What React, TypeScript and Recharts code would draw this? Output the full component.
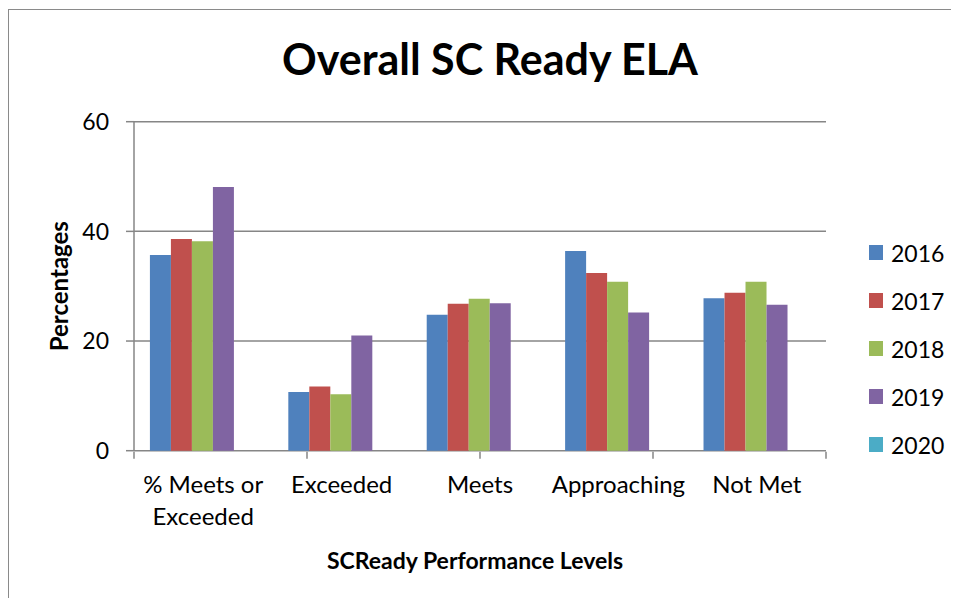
import { BarChart, Bar, XAxis, YAxis, CartesianGrid, Legend } from "recharts";

const categories = ["% Meets or Exceeded", "Exceeded", "Meets", "Approaching", "Not Met"];
const years = ["2016", "2017", "2018", "2019", "2020"];
const values2016 = [35.7, 10.7, 24.8, 36.4, 27.8];
const values2017 = [38.6, 11.7, 26.8, 32.4, 28.8];
const values2018 = [38.2, 10.3, 27.7, 30.8, 30.8];
const values2019 = [48.1, 21.0, 26.9, 25.2, 26.6];
const values2020: (number | null)[] = [null, null, null, null, null];
const yTicks = [0, 20, 40, 60];
const edgeTicks = [0, 1, 2, 3, 4, 5];

const seriesValues = [values2016, values2017, values2018, values2019, values2020];
const colors = ["#4F81BD", "#C0504D", "#9BBB59", "#8064A2", "#4BACC6"];

const FONT = "Lato, 'Open Sans', sans-serif";
const AXIS_GRAY = "#868686";

const chartData = categories.map((name, i) => {
  const row: Record<string, string | number | null> = { name };
  years.forEach((y, s) => {
    row[y] = seriesValues[s][i];
  });
  return row;
});

// x labels, the first one wraps on two lines like in excel
const CategoryTick = ({ x, y, payload }: any) => {
  const lines =
    payload.value === "% Meets or Exceeded" ? ["% Meets or", "Exceeded"] : [payload.value];
  return (
    <text x={x} y={y} textAnchor="middle" fontFamily={FONT} fontSize={24} fill="#000">
      {lines.map((l, i) => (
        <tspan key={i} x={x} dy={i === 0 ? 42 : 32}>
          {l}
        </tspan>
      ))}
    </text>
  );
};

const NoTick = () => <g />;

const YTitle = ({ viewBox }: any) => {
  const cx = viewBox.x + viewBox.width - 66.3;
  const cy = viewBox.y + viewBox.height / 2;
  return (
    <text
      x={cx}
      y={cy}
      transform={`rotate(-90 ${cx} ${cy})`}
      textAnchor="middle"
      fontFamily={FONT}
      fontWeight="bold"
      fontSize={24}
      fill="#000"
    >
      Percentages
    </text>
  );
};

const XTitle = ({ viewBox }: any) => {
  const cx = viewBox.x + viewBox.width / 2 - 5;
  return (
    <text
      x={cx}
      y={viewBox.y + 118}
      textAnchor="middle"
      fontFamily={FONT}
      fontWeight="bold"
      fontSize={23}
      fill="#000"
    >
      SCReady Performance Levels
    </text>
  );
};

const LegendList = ({ payload }: any) => (
  <div style={{ fontFamily: FONT, fontSize: 23, color: "#000" }}>
    {(payload || []).map((entry: any) => (
      <div key={entry.value} style={{ height: 48, display: "flex", alignItems: "center" }}>
        <span
          style={{
            width: 14,
            height: 15,
            background: entry.color,
            display: "inline-block",
            marginRight: 8,
          }}
        />
        <span>{entry.value}</span>
      </div>
    ))}
  </div>
);

export default function App() {
  return (
    <div style={{ position: "relative", width: 951, height: 590, overflow: "hidden" }}>
      {/* chart frame, runs off the page on the right and bottom */}
      <div
        style={{
          position: "absolute",
          left: 0,
          top: 1,
          width: 1000,
          height: 700,
          border: "1px solid #8a8a8a",
        }}
      />
      <div
        style={{
          position: "absolute",
          left: 0,
          top: 29,
          width: 951,
          textAlign: "center",
          paddingLeft: 13,
          boxSizing: "border-box",
          fontFamily: FONT,
          fontWeight: "bold",
          fontSize: 43,
          lineHeight: "44px",
          color: "#000",
        }}
      >
        Overall SC Ready ELA
      </div>
      <BarChart
        width={951}
        height={590}
        data={chartData}
        margin={{ top: 113.7, right: 133, bottom: 145.3, left: 66 }}
        barCategoryGap="11.5%"
        barGap={0}
        style={{ position: "absolute", left: 0, top: 0 }}
      >
        <CartesianGrid vertical={false} stroke={AXIS_GRAY} strokeWidth={1.5} />
        {/* hidden number axis only used for the tick marks between categories */}
        <XAxis
          xAxisId="edges"
          type="number"
          domain={[0, 5]}
          allowDataOverflow
          ticks={edgeTicks}
          tick={<NoTick />}
          tickSize={7}
          tickLine={{ stroke: AXIS_GRAY, strokeWidth: 1.5 }}
          axisLine={false}
          height={1}
        />
        <XAxis
          dataKey="name"
          tick={<CategoryTick />}
          tickLine={false}
          tickSize={0}
          tickMargin={0}
          interval={0}
          height={1}
          axisLine={false}
          label={<XTitle />}
        />
        <YAxis
          domain={[0, 60]}
          ticks={yTicks}
          width={60}
          tickSize={8}
          tickMargin={17}
          tick={{ fontFamily: FONT, fontSize: 23, fill: "#000" }}
          tickLine={{ stroke: AXIS_GRAY, strokeWidth: 1.5 }}
          axisLine={{ stroke: AXIS_GRAY, strokeWidth: 1.5 }}
          label={<YTitle />}
        />
        <Legend
          layout="vertical"
          align="center"
          verticalAlign="middle"
          content={<LegendList />}
          wrapperStyle={{ left: 861, top: 220.5, width: 90 }}
        />
        {years.map((y, s) => (
          <Bar key={y} dataKey={y} fill={colors[s]} isAnimationActive={false} />
        ))}
      </BarChart>
    </div>
  );
}
